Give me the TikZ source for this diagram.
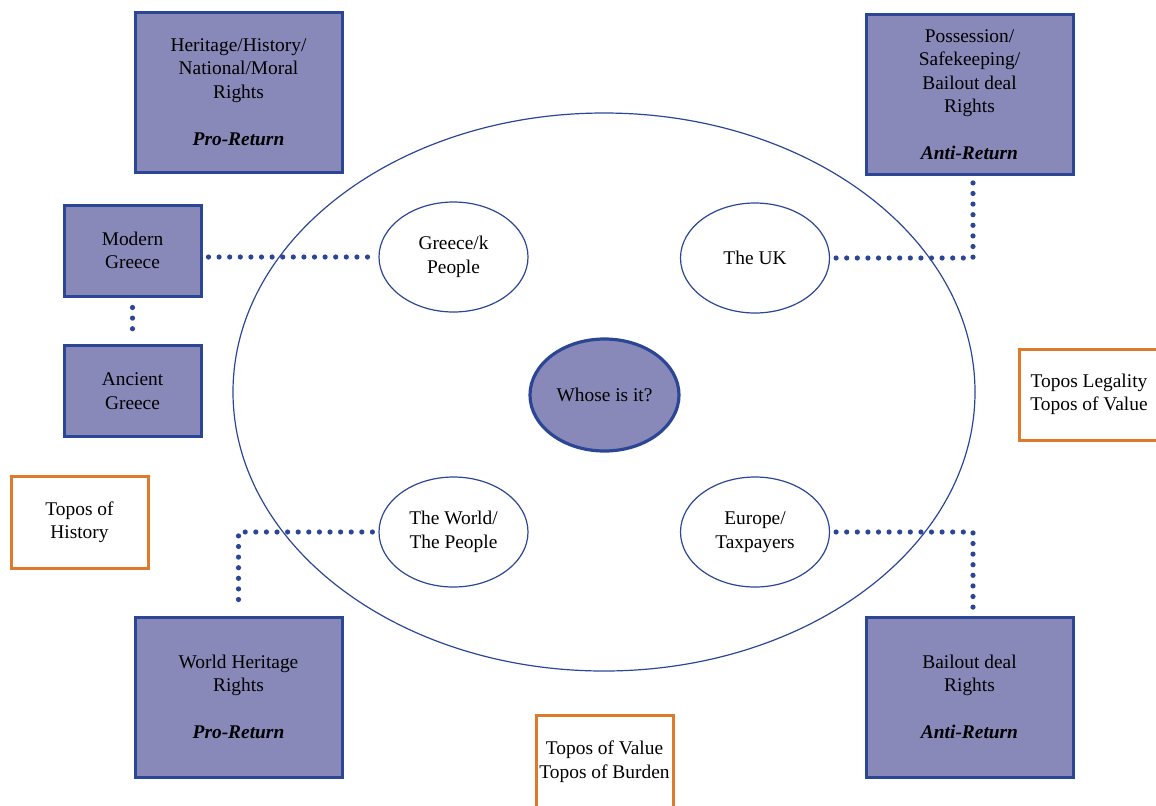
\documentclass[tikz,border=0pt]{standalone}
\usepackage{fontspec}
\setmainfont{LiberationSerif}[Extension=.ttf, UprightFont=*-Regular, BoldFont=*-Bold, ItalicFont=*-Italic, BoldItalicFont=*-BoldItalic]
\usetikzlibrary{shapes.geometric}
\definecolor{boxfill}{HTML}{8888B9}
\definecolor{boxline}{HTML}{2C4696}
\definecolor{topo}{HTML}{DE7A2C}
\begin{document}
\begin{tikzpicture}[x=0.5pt,y=-0.5pt,
  txt/.style={align=center, inner sep=0pt, font=\fontsize{9.7}{11.75}\selectfont},
  rbox/.style={txt, rectangle, draw=boxline, line width=1.5pt, fill=boxfill},
  bigbox/.style={rbox, minimum width=103.5pt, minimum height=80pt},
  smallbox/.style={rbox, minimum width=68.5pt, minimum height=45.5pt},
  topobox/.style={txt, rectangle, draw=topo, line width=1.5pt, fill=white, minimum width=68.5pt, minimum height=46pt},
  actor/.style={txt, ellipse, draw=boxline, line width=0.6pt, fill=white, minimum width=74.5pt, minimum height=55pt},
  dotconn/.style={draw=boxline, line width=2.6pt, line cap=round, dash pattern=on 0pt off 5.3pt, shorten <=3pt, shorten >=3pt}]
\useasboundingbox (0,0) rectangle (1156,805);

% outer ellipse
\node[ellipse, draw=boxline, line width=0.6pt, minimum width=371pt, minimum height=279pt, inner sep=0pt] (outer) at (604,392) {};

% central question
\node[txt, ellipse, draw=boxline, line width=1.6pt, fill=boxfill, minimum width=74.5pt, minimum height=56pt] (who) at (604.5,395) {Whose is it?};

% actors
\node[actor] (gp) at (453.5,257) {Greece/k\\People};
\node[actor] (uk) at (755,258) {The UK};
\node[actor] (wp) at (453.5,532) {The World/\\The People};
\node[actor] (eu) at (755,532) {Europe/\\Taxpayers};

% rights boxes
\node[bigbox] (hh) at (238.5,92) {Heritage/History/\\National/Moral\\Rights\\[11.75pt]\textbf{\textit{Pro-Return}}};
\node[bigbox] (psb) at (969.5,94.5) {Possession/\\Safekeeping/\\Bailout deal\\Rights\\[11.75pt]\textbf{\textit{Anti-Return}}};
\node[bigbox] (wh) at (238.5,697) {World Heritage\\Rights\\[11.75pt]\textbf{\textit{Pro-Return}}};
\node[bigbox] (bd) at (969.5,697) {Bailout deal\\Rights\\[11.75pt]\textbf{\textit{Anti-Return}}};

% Greece boxes
\node[smallbox] (mg) at (132.5,250.5) {Modern\\Greece};
\node[smallbox] (ag) at (132.5,391) {Ancient\\Greece};

% topos boxes
\node[topobox] (toh) at (79.5,522) {Topos of\\History};
\node[topobox, minimum width=70pt, minimum height=45.5pt] (tlv) at (1089,394.5) {Topos Legality\\Topos of Value};
\node[topobox, minimum height=46.5pt] (tvb) at (604.5,761.5) {Topos of Value\\Topos of Burden};

% connectors
\draw[dotconn] (gp.west -| mg.east) -- (gp.west);
\draw[dotconn, shorten <=5pt, shorten >=5pt] (mg.south) -- (ag.north);
\draw[dotconn] (uk.east) -| ([xshift=1.75pt]psb.south);
\draw[dotconn] (wp.west) -| (wh.north);
\draw[dotconn] (eu.east) -| ([xshift=1.75pt]bd.north);
\end{tikzpicture}
\end{document}
